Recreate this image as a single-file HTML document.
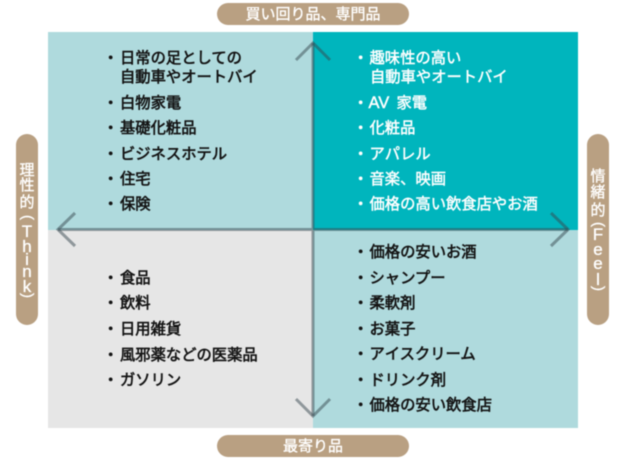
<!DOCTYPE html>
<html lang="ja"><head><meta charset="utf-8">
<style>
html,body{margin:0;padding:0;background:#fff;width:626px;height:460px;overflow:hidden}
svg{display:block;filter:blur(.45px)}
text{font-family:"Liberation Sans","Noto Sans CJK JP",sans-serif;font-size:15.3px}
.d text{fill:#141414;stroke:#141414;stroke-width:.6px}
.w text{fill:#fff;stroke:#fff;stroke-width:.45px}
.p text{fill:#fff;font-size:15px;stroke:#fff;stroke-width:.35px}
.p .l{font-size:17px}
.av{font-size:16.500px}
</style></head><body>
<svg width="626" height="460" viewBox="0 0 626 460" xmlns="http://www.w3.org/2000/svg">
<rect x="48" y="32" width="265" height="198" fill="#afdadd"/>
<rect x="313" y="32" width="265" height="198" fill="#00b5bd"/>
<rect x="48" y="230" width="265" height="198" fill="#e6e6e6"/>
<rect x="313" y="230" width="265" height="198" fill="#afdadd"/>
<g fill="#b9a082">
<rect x="217" y="3" width="192" height="22" rx="11"/>
<rect x="217" y="435" width="192" height="22" rx="11"/>
<rect x="16" y="134" width="22" height="191" rx="11"/>
<rect x="587" y="134" width="22" height="191" rx="11"/>
</g>
<g fill="none" stroke="#37474f" stroke-opacity=".5" stroke-width="3">
<path d="M313 43V416M58 229.500H568"/>
<path d="M296 60L313 43L330 60M296 399L313 416L330 399M75 213L58 229.500L75 246M551 213L568 229.500L551 246"/>
</g>
<g class="d">
<text x="103" y="63">・<tspan x="120">日常の足としての</tspan></text>
<text x="120" y="82">自動車やオートバイ</text>
<text x="103" y="108">・<tspan x="120">白物家電</tspan></text>
<text x="103" y="133">・<tspan x="120">基礎化粧品</tspan></text>
<text x="103" y="159">・<tspan x="120">ビジネスホテル</tspan></text>
<text x="103" y="184">・<tspan x="120">住宅</tspan></text>
<text x="103" y="209">・<tspan x="120">保険</tspan></text>
<text x="103" y="283">・<tspan x="120">食品</tspan></text>
<text x="103" y="308">・<tspan x="120">飲料</tspan></text>
<text x="103" y="334">・<tspan x="120">日用雑貨</tspan></text>
<text x="103" y="360">・<tspan x="120">風邪薬などの医薬品</tspan></text>
<text x="103" y="385">・<tspan x="120">ガソリン</tspan></text>
<text x="353" y="257">・<tspan x="369.500">価格の安いお酒</tspan></text>
<text x="353" y="283">・<tspan x="369.500">シャンプー</tspan></text>
<text x="353" y="308">・<tspan x="369.500">柔軟剤</tspan></text>
<text x="353" y="334">・<tspan x="369.500">お菓子</tspan></text>
<text x="353" y="359">・<tspan x="369.500">アイスクリーム</tspan></text>
<text x="353" y="385">・<tspan x="369.500">ドリンク剤</tspan></text>
<text x="353" y="410">・<tspan x="369.500">価格の安い飲食店</tspan></text>
</g>
<g class="w">
<text x="353" y="63">・<tspan x="369.500">趣味性の高い</tspan></text>
<text x="370" y="82">自動車やオートバイ</text>
<text x="353" y="108">・<tspan x="368.500" class="av">AV</tspan><tspan x="396.500">家電</tspan></text>
<text x="353" y="133">・<tspan x="369.500">化粧品</tspan></text>
<text x="353" y="159">・<tspan x="369.500">アパレル</tspan></text>
<text x="353" y="184">・<tspan x="369.500">音楽、映画</tspan></text>
<text x="353" y="209">・<tspan x="369.500">価格の高い飲食店やお酒</tspan></text>
</g>
<g class="p">
<text x="313" y="19" text-anchor="middle">買い回り品、専門品</text>
<text x="313" y="451" text-anchor="middle">最寄り品</text>
<text x="27" y="175" text-anchor="middle">理</text>
<text x="27" y="190" text-anchor="middle">性</text>
<text x="27" y="207" text-anchor="middle">的</text>
<text transform="translate(23,215) rotate(90)">(</text>
<text class="l" x="27" y="237" text-anchor="middle">T</text>
<text class="l" x="27" y="252" text-anchor="middle">h</text>
<text class="l" x="27" y="265" text-anchor="middle">i</text>
<text class="l" x="27" y="277" text-anchor="middle">n</text>
<text class="l" x="27" y="292" text-anchor="middle">k</text>
<text transform="translate(23,293) rotate(90)">)</text>
<text x="598" y="181" text-anchor="middle">情</text>
<text x="598" y="197" text-anchor="middle">緒</text>
<text x="598" y="215" text-anchor="middle">的</text>
<text transform="translate(594,222) rotate(90)">(</text>
<text class="l" x="598" y="240" text-anchor="middle">F</text>
<text class="l" x="598" y="255" text-anchor="middle">e</text>
<text class="l" x="598" y="269" text-anchor="middle">e</text>
<text class="l" x="598" y="285" text-anchor="middle">l</text>
<text transform="translate(594,286) rotate(90)">)</text>
</g>
</svg>
</body></html>
